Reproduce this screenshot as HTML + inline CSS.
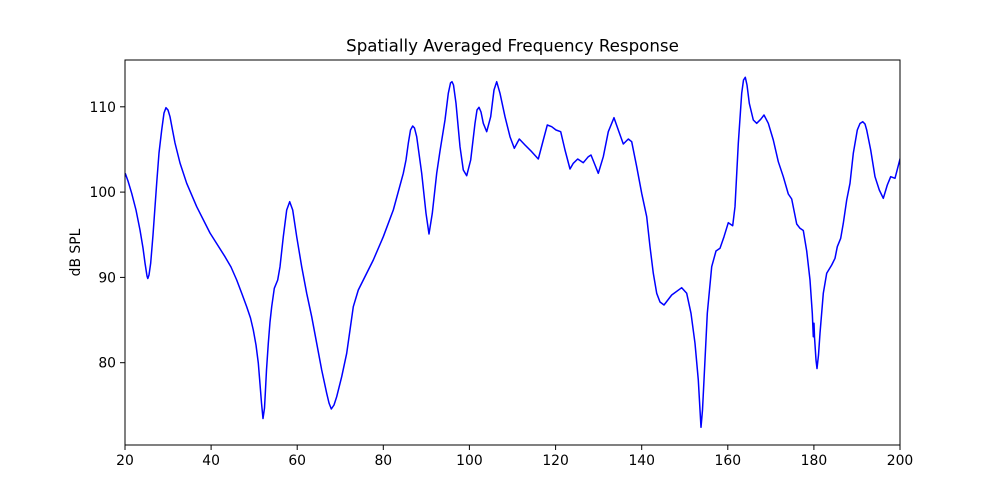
<!DOCTYPE html>
<html>
<head>
<meta charset="utf-8">
<style>
  html, body { margin: 0; padding: 0; background: #ffffff; }
  svg { display: block; }
  text { font-family: "DejaVu Sans", "Liberation Sans", sans-serif; fill: #000; }
</style>
</head>
<body>
<svg width="1000" height="500" viewBox="0 0 1000 500" xmlns="http://www.w3.org/2000/svg">
  <rect x="0" y="0" width="1000" height="500" fill="#ffffff"/>
  <defs>
    <clipPath id="plot"><rect x="125" y="60" width="775" height="385"/></clipPath>
  </defs>

  <!-- title -->
  <text x="512.5" y="51.5" font-size="16.67" text-anchor="middle">Spatially Averaged Frequency Response</text>

  <!-- data line -->
  <g clip-path="url(#plot)">
    <polyline fill="none" stroke="#0000ff" stroke-width="1.5" stroke-linejoin="round" stroke-linecap="square" points="
125.5,174 128,181 131.7,193.3 136,210 140,230 143,248 145,263 147,276 147.8,278.5 149,275 150.7,263 153,235 156.7,183 159,153 161.7,130 164,113 166,107.7 168,110 170,116.7 172.5,130 175,143 180,163 186.7,183.3 196.7,206.7 210,233 225,256.7 231,267 236.7,280 242,294 246.7,306.7 250.5,318 253.3,330 256,345 258.3,363 260,384 261.5,403 263,418.5 264.5,408 265.3,393.3 266.5,370 268.3,343.3 270,322 271.7,306.7 274.3,288.3 277.7,280 280,266.7 283.3,236.7 286.7,210 289.7,201.7 292.7,210 296.7,236.7 301.7,266.7 306.7,293.3 311.7,316.7 316.7,343.3 321.7,370 326.7,393.3 329,403 331.3,409 334,405 336.7,396.7 341.7,376.7 346.7,353.3 350,330 353.3,306.7 358.3,290 363.3,280 373.3,260 383.3,236.7 393.3,210 403.3,173.3 406,160 408.3,143.3 410.5,130 412.7,126 414.5,128 416.7,136.7 421.7,173.3 426,213.3 429,234 432.3,213.3 436.7,173.3 440,151 445,120 448.3,93.3 450.5,83 452,81.7 453.5,85 456,103.3 460,146.7 463.3,170 466.7,175.7 470.7,160 475,123.3 477,110 479,107.3 481,112 483.3,123.3 486.7,131.7 490.7,116.7 494,90 496.7,81.7 500,93.3 505,116.7 510,136.7 514.3,148.3 519.3,139 525,145 531.7,151.7 538.3,159 543.3,140 547.3,125 551.7,126.7 556,130 560.7,131.7 565,150 570,169 573.3,163.3 577.7,159 583.3,162.7 588.3,156.7 591,155 595,165 598.3,173.3 603.3,156.7 608.3,131.7 614,117.7 618.3,130 623.3,144 628.3,139 631.7,141.7 636.7,166.7 641.7,193.3 646.7,216.7 650,246.7 653.3,273.3 656.7,293.3 660,302 664,305 671.7,295 681.7,287.7 686.7,293.3 691,313.3 695,343.3 698.3,380 700,410 701,427.3 702.5,410 704,380 707.3,313.3 711.7,266.7 716,251 720,248.3 724,236.7 728.3,222.7 732.7,225.7 735,206.7 738.3,143.3 741.7,93.3 743.5,80 745.3,77.3 747,85 749.3,103.3 753.3,120 756.7,123.3 760.7,119.3 764,115 768.3,123.3 773.3,140 778.3,161.7 783.3,176.7 788.3,194 791.7,199 796.7,224 800,228.3 803.3,230.5 806.7,251 810,280 812.3,313.3 813.3,336.7 814,323.3 814.5,337 816,360 817,368.5 818.5,355 820,333.3 823.3,293.3 826.7,273.3 831.7,265 835,258.3 837.3,246.7 840.7,238.3 843.3,223.3 846.7,200 850,183.3 853.3,153.3 857.3,130 860,123.5 862.7,121.7 865,124 866.7,130 870.7,150 875,176.7 879.3,190 883.3,198.3 887.3,185 890.7,176.7 895,178.3 899.3,161.7 900,159"/>
  </g>

  <!-- axes frame -->
  <rect x="125" y="60" width="775" height="385" fill="none" stroke="#000" stroke-width="1"/>

  <!-- x ticks -->
  <g stroke="#000" stroke-width="1">
    <line x1="125" y1="445" x2="125" y2="450"/>
    <line x1="211.1" y1="445" x2="211.1" y2="450"/>
    <line x1="297.2" y1="445" x2="297.2" y2="450"/>
    <line x1="383.3" y1="445" x2="383.3" y2="450"/>
    <line x1="469.4" y1="445" x2="469.4" y2="450"/>
    <line x1="555.6" y1="445" x2="555.6" y2="450"/>
    <line x1="641.7" y1="445" x2="641.7" y2="450"/>
    <line x1="727.8" y1="445" x2="727.8" y2="450"/>
    <line x1="813.9" y1="445" x2="813.9" y2="450"/>
    <line x1="900" y1="445" x2="900" y2="450"/>
  </g>
  <g font-size="13.9" text-anchor="middle">
    <text x="125" y="465">20</text>
    <text x="211.1" y="465">40</text>
    <text x="297.2" y="465">60</text>
    <text x="383.3" y="465">80</text>
    <text x="469.4" y="465">100</text>
    <text x="555.6" y="465">120</text>
    <text x="641.7" y="465">140</text>
    <text x="727.8" y="465">160</text>
    <text x="813.9" y="465">180</text>
    <text x="900" y="465">200</text>
  </g>

  <!-- y ticks -->
  <g stroke="#000" stroke-width="1">
    <line x1="120" y1="362.7" x2="125" y2="362.7"/>
    <line x1="120" y1="277.4" x2="125" y2="277.4"/>
    <line x1="120" y1="192.1" x2="125" y2="192.1"/>
    <line x1="120" y1="106.8" x2="125" y2="106.8"/>
  </g>
  <g font-size="13.9" text-anchor="end">
    <text x="116" y="367.7">80</text>
    <text x="116" y="282.4">90</text>
    <text x="116" y="197.1">100</text>
    <text x="116" y="111.8">110</text>
  </g>

  <!-- y label -->
  <text x="80" y="252.5" font-size="13.9" text-anchor="middle" transform="rotate(-90 80 252.5)">dB SPL</text>
</svg>
</body>
</html>
